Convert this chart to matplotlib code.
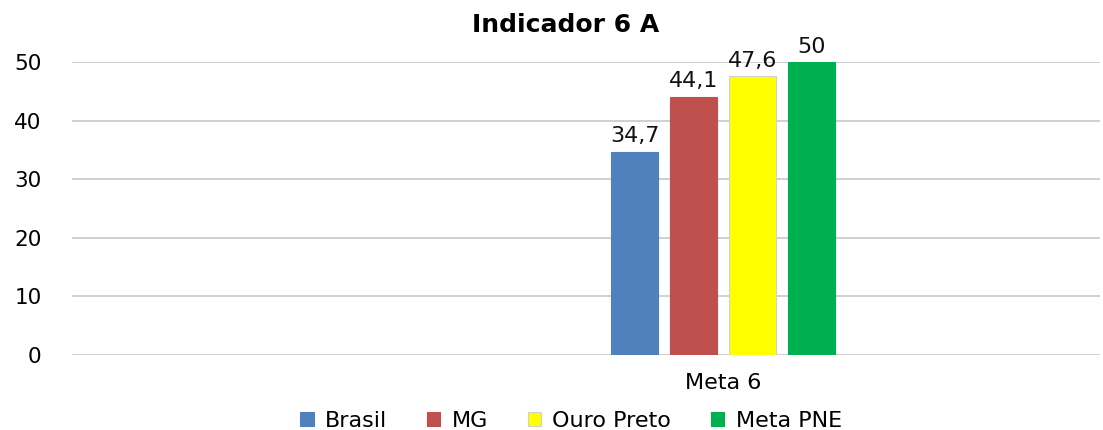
import matplotlib.pyplot as plt
import numpy as np

categorias = ['Meta 6']
series = ['Brasil', 'MG', 'Ouro Preto', 'Meta PNE']
valores = [34.7, 44.1, 47.6, 50]
rotulos = ['34,7', '44,1', '47,6', '50']
cores = ['#4f81bd', '#c0504d', '#ffff00', '#00b050']

fig = plt.figure(figsize=(11.03, 4.30), dpi=100)
ax = fig.add_axes([72 / 1103, 1 - 355 / 430, 1028 / 1103, 293 / 430])

passo = 0.2
largura = 0.16
x0 = np.arange(len(categorias))
for i, (nome, v, r, c) in enumerate(zip(series, valores, rotulos, cores)):
    xi = x0 + (i - 1.5) * passo
    ax.bar(xi, [v], width=largura, color=c, edgecolor='#d0d0d0' if c == '#ffff00' else c,
           linewidth=0.8, label=nome, zorder=3)
    ax.text(xi[0], v + 0.9, r, ha='center', va='bottom', fontsize=16, color='#111111')

ax.set_ylim(0, 50)
ax.set_xlim(-2.207, 1.278)
ax.set_yticks(np.arange(0, 51, 10))
ax.set_xticks(x0)
ax.set_xticklabels(categorias)
ax.grid(axis='y', color='#c8c8c8', linewidth=1.2, zorder=0)
for s in ax.spines.values():
    s.set_visible(False)
ax.tick_params(axis='y', length=0, pad=22, labelsize=15.5)
ax.tick_params(axis='x', length=0, pad=13, labelsize=16)

fig.text(566 / 1103, 1 - 25 / 430, 'Indicador 6 A', ha='center', va='center',
         fontsize=18, fontweight='bold')

fig.legend(loc='center', bbox_to_anchor=(571 / 1103, 1 - 421 / 430), ncol=4,
           frameon=False, fontsize=16, handlelength=0.6, handleheight=0.6,
           handletextpad=0.5, columnspacing=1.8)

plt.savefig('out.png', dpi=100)
